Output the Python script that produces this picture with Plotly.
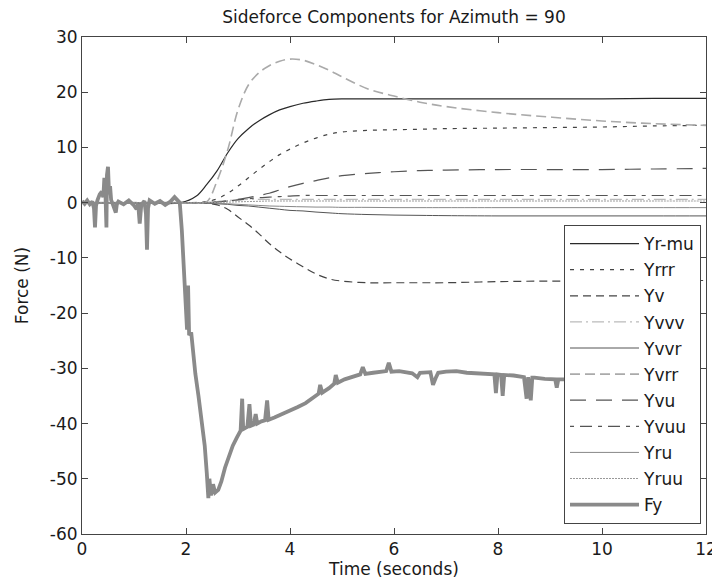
import plotly.graph_objects as go

# ---- data ----
T = [0, 1.0, 1.9, 2.2, 2.4, 2.6, 2.8, 3.0, 3.2, 3.4, 3.6, 3.8, 4.0, 4.25, 4.5, 4.75,
     5.0, 5.5, 6.0, 6.5, 7.0, 8.0, 9.0, 10.0, 11.0, 12.0]

Yr_mu = [0, 0, 0, 1.2, 3.3, 5.8, 9.0, 11.6, 13.4, 14.8, 15.9, 16.8, 17.4, 18.0, 18.4, 18.7,
         18.8, 18.8, 18.8, 18.8, 18.8, 18.8, 18.8, 18.8, 18.9, 18.9]
Yrrr = [0, 0, 0, 0, 0.2, 0.7, 1.7, 3.0, 4.5, 6.0, 7.4, 8.7, 9.7, 10.8, 11.7, 12.4,
        12.8, 13.1, 13.2, 13.3, 13.4, 13.5, 13.6, 13.7, 13.9, 14.0]
Yv = [0, 0, 0, 0, -0.1, -0.4, -1.2, -2.6, -4.0, -5.6, -7.4, -8.9, -10.2, -11.6, -12.9, -13.8,
      -14.2, -14.5, -14.5, -14.5, -14.5, -14.3, -14.2, -14.2, -14.1, -14.1]
Yvvv = [0, 0, 0, 0, 0, 0.2, 0.4, 0.5, 0.6, 0.6, 0.6, 0.6, 0.6, 0.6, 0.6, 0.6,
        0.6, 0.6, 0.6, 0.6, 0.6, 0.6, 0.6, 0.6, 0.6, 0.6]
Yvvr = [0, 0, 0, 0, -0.1, -0.2, -0.3, -0.5, -0.6, -0.8, -1.0, -1.2, -1.4, -1.5, -1.7, -1.85,
        -2.0, -2.15, -2.25, -2.3, -2.35, -2.4, -2.4, -2.4, -2.4, -2.4]
Yvrr = [0, 0, 0, 0, 0.2, 4.0, 9.5, 16.8, 21.3, 23.5, 24.8, 25.6, 26.0, 25.8, 25.0, 24.0,
        22.8, 20.6, 19.3, 18.2, 17.4, 16.3, 15.5, 14.8, 14.3, 14.0]
Yvu = [0, 0, 0, 0, 0, 0.1, 0.3, 0.6, 0.9, 1.3, 1.7, 2.3, 2.9, 3.5, 4.0, 4.5,
       4.9, 5.3, 5.6, 5.8, 5.9, 6.0, 6.0, 6.0, 6.1, 6.2]
Yvuu = [0, 0, 0, 0, 0, 0.1, 0.3, 0.5, 0.7, 0.9, 1.0, 1.1, 1.2, 1.3, 1.3, 1.3,
        1.3, 1.3, 1.3, 1.3, 1.3, 1.3, 1.3, 1.3, 1.3, 1.3]
Yru = [0, 0, 0, 0, 0, -0.1, -0.2, -0.3, -0.4, -0.5, -0.6, -0.65, -0.7, -0.75, -0.8, -0.8,
       -0.85, -0.85, -0.9, -0.9, -0.9, -0.9, -0.9, -0.9, -0.9, -0.9]
Yruu = [0, 0, 0, 0, 0, 0.05, 0.1, 0.15, 0.2, 0.25, 0.3, 0.3, 0.3, 0.3, 0.3, 0.3,
        0.3, 0.3, 0.3, 0.3, 0.3, 0.3, 0.3, 0.3, 0.3, 0.3]

Fy_t = [0.00, 0.05, 0.10, 0.15, 0.20, 0.23, 0.25, 0.27, 0.30, 0.34, 0.38, 0.41, 0.43, 0.45,
        0.47, 0.48, 0.50, 0.52, 0.54, 0.56, 0.60, 0.65, 0.67, 0.70, 0.80, 0.90, 1.00, 1.05,
        1.08, 1.11, 1.14, 1.20, 1.23, 1.25, 1.27, 1.30, 1.40, 1.50, 1.60, 1.70, 1.78, 1.84,
        1.88, 1.92, 1.97, 2.00, 2.02, 2.04, 2.06, 2.10, 2.13, 2.18, 2.24, 2.30, 2.36, 2.40,
        2.43, 2.45, 2.48, 2.52, 2.56, 2.62, 2.68, 2.75, 2.82, 2.90, 2.98, 3.05, 3.08, 3.10,
        3.18, 3.22, 3.25, 3.30, 3.34, 3.37, 3.45, 3.52, 3.56, 3.59, 3.70, 3.85, 4.00, 4.15,
        4.30, 4.45, 4.55, 4.58, 4.62, 4.75, 4.85, 4.88, 4.92, 5.05, 5.20, 5.35, 5.40, 5.45,
        5.60, 5.75, 5.85, 5.90, 5.95, 6.10, 6.20, 6.35, 6.45, 6.50, 6.70, 6.75, 6.80, 6.85,
        7.00, 7.20, 7.40, 7.60, 7.80, 7.93, 7.96, 7.99, 8.06, 8.09, 8.12, 8.30, 8.50, 8.55,
        8.58, 8.63, 8.66, 8.70, 8.90, 9.10, 9.13, 9.16, 9.40, 9.80]
Fy = [0.3, -0.2, 0.4, -0.3, 0.2, -1.0, -4.5, -0.5, 0.5, 1.5, 2.0, 1.0, 4.5, 2.0,
      -4.5, 5.0, 6.5, 1.5, 3.0, 0.5, -0.5, -1.8, -0.3, 0.2, -0.3, 0.4, -0.5, -1.2,
      -0.2, -3.8, -0.4, 0.3, -2.0, -8.5, -1.0, 0.4, -0.2, 0.3, -0.4, 0.2, 1.0, 0.3,
      0.0, -5.0, -14.0, -20.0, -23.0, -15.0, -24.0, -23.5, -27.0, -31.0, -35.0, -39.0, -44.0, -49.0,
      -53.5, -50.0, -53.0, -51.0, -52.5, -52.0, -50.5, -48.0, -46.0, -44.0, -42.5, -41.3, -35.5, -41.0,
      -40.6, -36.5, -40.4, -40.2, -38.3, -40.0, -39.6, -39.4, -35.8, -39.3, -38.9, -38.3, -37.6, -37.0,
      -36.3, -35.4, -34.6, -33.0, -34.4, -33.6, -32.8, -31.2, -32.6, -32.0, -31.5, -31.1, -29.8, -31.0,
      -30.8, -30.6, -30.5, -29.0, -30.6, -30.5, -30.7, -30.9, -31.6, -30.8, -30.7, -33.0, -31.8, -30.8,
      -30.6, -30.5, -30.8, -30.9, -31.0, -31.1, -34.5, -31.1, -31.2, -35.0, -31.2, -31.3, -31.6, -35.5,
      -31.6, -35.8, -31.7, -31.7, -31.9, -32.0, -33.5, -32.0, -32.0, -32.0]

x_ticks = [0, 2, 4, 6, 8, 10, 12]
x_labels = ["0", "2", "4", "6", "8", "10", "12"]
y_ticks = [-60, -50, -40, -30, -20, -10, 0, 10, 20, 30]
y_labels = ["-60", "-50", "-40", "-30", "-20", "-10", "0", "10", "20", "30"]

# ---- styles ----
series = [
    ("Yr-mu", Yr_mu, "#2a2a2a", "solid", 1.2),
    ("Yrrr", Yrrr, "#444444", "4px,6px", 1.2),
    ("Yv", Yv, "#444444", "8px,5px", 1.2),
    ("Yvvv", Yvvv, "#bbbbbb", "12px,4px,2px,4px", 1.2),
    ("Yvvr", Yvvr, "#555555", "solid", 1.0),
    ("Yvrr", Yvrr, "#aaaaaa", "10px,5px", 1.6),
    ("Yvu", Yvu, "#555555", "16px,10px", 1.2),
    ("Yvuu", Yvuu, "#555555", "4px,6px,12px,6px", 1.2),
    ("Yru", Yru, "#888888", "solid", 1.0),
    ("Yruu", Yruu, "#999999", "2px,1px", 1.0),
]

fig = go.Figure()
for name, vals, color, dash, width in series:
    fig.add_trace(go.Scatter(x=T, y=vals, name=name, mode="lines",
                             line=dict(color=color, dash=dash, width=width, shape="spline"),
                             legendgroup=name))
fig.add_trace(go.Scatter(x=Fy_t, y=Fy, name="Fy", mode="lines",
                         line=dict(color="#8a8a8a", width=3.8), legendgroup="Fy"))

font = "DejaVu Sans, sans-serif"
axis_common = dict(showline=True, linecolor="#444444", linewidth=1, mirror="ticks",
                   ticks="inside", ticklen=6, tickcolor="#444444", showgrid=False,
                   zeroline=False, ticklabeloverflow="allow",
                   tickfont=dict(size=17, color="#1a1a1a", family=font))

# page body adds an 8px offset; figure size/margins compensate for it
fig.update_layout(
    width=712, height=571,
    margin=dict(l=74, r=3, t=29, b=45),
    paper_bgcolor="white", plot_bgcolor="white",
    font=dict(family=font, color="#1a1a1a"),
    title=dict(text="Sideforce Components for Azimuth = 90", xref="paper", x=0.5,
               xanchor="center", yref="container", y=0.984, yanchor="middle",
               font=dict(size=17, color="#1a1a1a")),
    xaxis=dict(range=[0, 12], tickmode="array", tickvals=x_ticks, ticktext=x_labels,
               title=dict(text="Time (seconds)", standoff=5, font=dict(size=17)),
               **axis_common),
    yaxis=dict(range=[-60, 30], tickmode="array", tickvals=y_ticks, ticktext=y_labels,
               title=dict(text="Force (N)", standoff=16, font=dict(size=17)),
               **axis_common),
    showlegend=True,
    legend=dict(x=0.992, y=0.02, xanchor="right", yanchor="bottom",
                bgcolor="white", bordercolor="#444444", borderwidth=1,
                font=dict(size=17, color="#1a1a1a"), traceorder="grouped",
                tracegroupgap=1, itemwidth=69),
)

fig.write_html("out.html")
